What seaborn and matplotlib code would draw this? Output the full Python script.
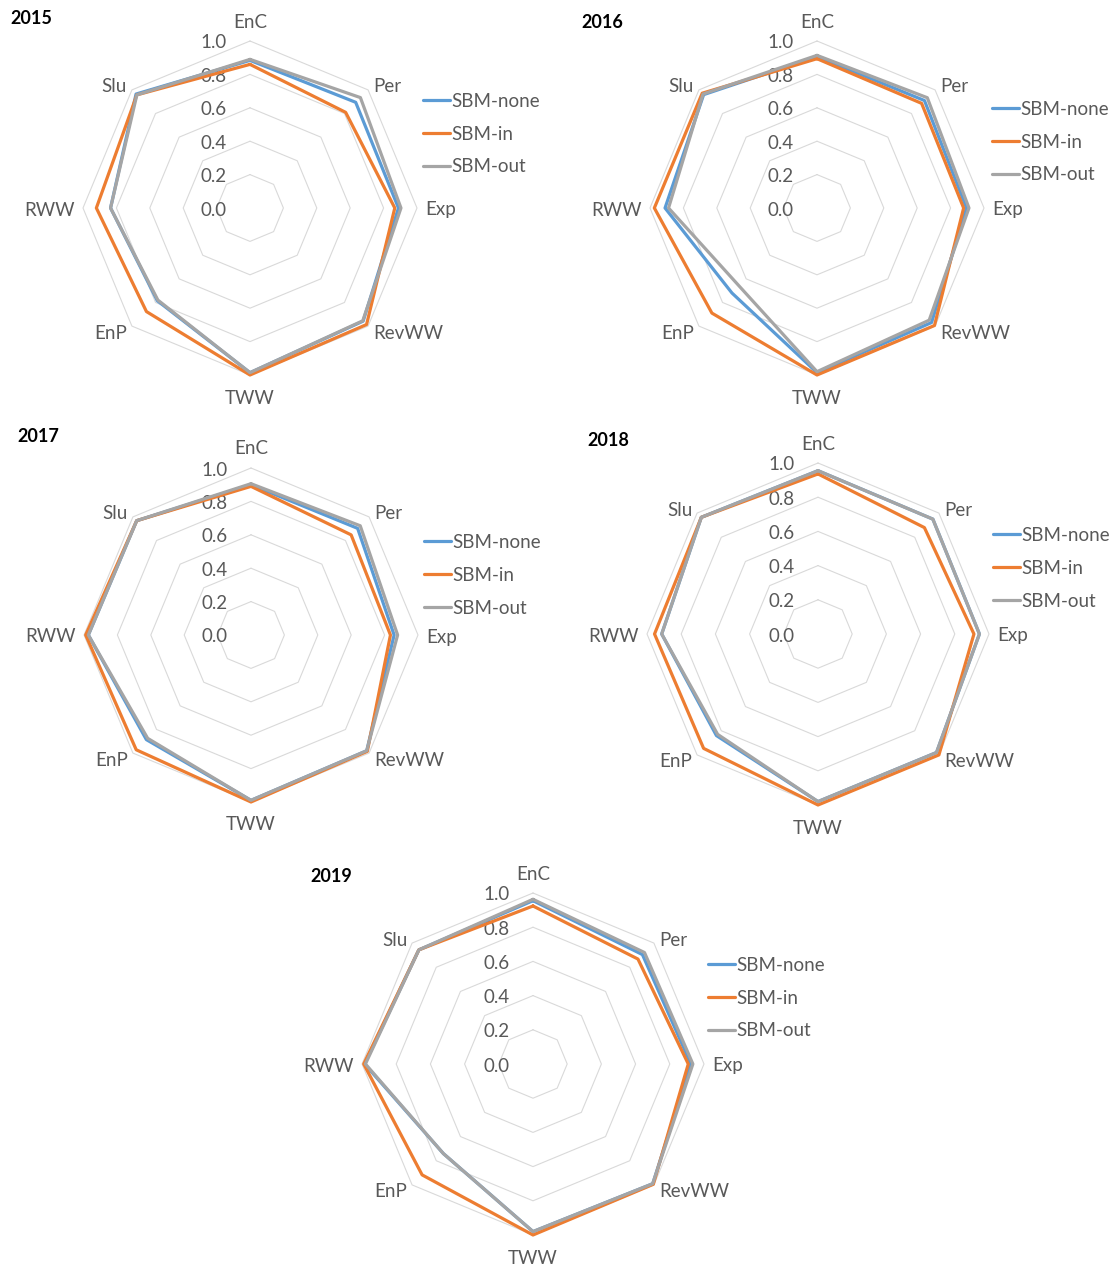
import numpy as np
import pandas as pd
import matplotlib
matplotlib.use("Agg")
import matplotlib.pyplot as plt
from matplotlib.lines import Line2D
import seaborn as sns

# ---- data -------------------------------------------------------------
categories = ["EnC", "Per", "Exp", "RevWW", "TWW", "EnP", "RWW", "Slu"]
series_names = ["SBM-none", "SBM-in", "SBM-out"]
years = ["2015", "2016", "2017", "2018", "2019"]
tick_values = [0.0, 0.2, 0.4, 0.6, 0.8, 1.0]

none_2015 = [0.884, 0.895, 0.889, 0.958, 0.986, 0.785, 0.835, 0.965]
in_2015 = [0.860, 0.810, 0.867, 0.987, 1.000, 0.877, 0.920, 0.958]
out_2015 = [0.890, 0.935, 0.904, 0.955, 0.986, 0.780, 0.835, 0.958]

none_2016 = [0.906, 0.910, 0.895, 0.970, 0.986, 0.720, 0.910, 0.960]
in_2016 = [0.894, 0.886, 0.878, 0.995, 1.000, 0.890, 0.974, 0.972]
out_2016 = [0.914, 0.934, 0.910, 0.950, 0.980, 0.660, 0.889, 0.965]

none_2017 = [0.900, 0.903, 0.857, 0.980, 0.990, 0.886, 0.974, 0.968]
in_2017 = [0.890, 0.848, 0.835, 0.985, 1.000, 0.972, 0.990, 0.968]
out_2017 = [0.906, 0.925, 0.878, 0.980, 0.990, 0.875, 0.974, 0.968]

none_2018 = [0.955, 0.950, 0.944, 0.980, 0.980, 0.840, 0.914, 0.965]
in_2018 = [0.936, 0.880, 0.912, 1.000, 1.000, 0.946, 0.956, 0.965]
out_2018 = [0.955, 0.950, 0.944, 0.980, 0.980, 0.830, 0.914, 0.965]

none_2019 = [0.955, 0.905, 0.923, 0.990, 0.980, 0.741, 0.985, 0.944]
in_2019 = [0.924, 0.868, 0.908, 0.995, 1.000, 0.917, 0.990, 0.944]
out_2019 = [0.963, 0.922, 0.935, 0.990, 0.980, 0.741, 0.980, 0.944]

panel_values = {
    "2015": [none_2015, in_2015, out_2015],
    "2016": [none_2016, in_2016, out_2016],
    "2017": [none_2017, in_2017, out_2017],
    "2018": [none_2018, in_2018, out_2018],
    "2019": [none_2019, in_2019, out_2019],
}

# ---- layout (figure pixels) ------------------------------------------
W, H, DPI = 1116, 1266, 100
# centre x, centre y, radius of the 1.0 ring
panel_geom = {
    "2015": (250, 208, 167),
    "2016": (817, 208, 167),
    "2017": (251, 635, 167),
    "2018": (818, 634, 171),
    "2019": (533, 1064, 171),
}
legend_pos = {
    "2015": (423, 93),
    "2016": (992, 101),
    "2017": (424, 534),
    "2018": (993, 527),
    "2019": (708, 957),
}
title_pos = {
    "2015": (10, 18),
    "2016": (581, 22),
    "2017": (17, 437),
    "2018": (587, 441),
    "2019": (310, 876),
}

palette = {"SBM-none": "#5B9BD5", "SBM-in": "#ED7D31", "SBM-out": "#A5A5A5"}
text_color = "#595959"
grid_color = "#D9D9D9"
FS = 13.5
TEXT_DROP = -2  # small downward nudge of text baselines, in pixels

sns.set_theme(style="white")
plt.rcParams["font.family"] = ["Lato", "DejaVu Sans"]

fig = plt.figure(figsize=(W / DPI, H / DPI), dpi=DPI)
fig.patch.set_facecolor("white")

n = len(categories)
angles = np.linspace(0, 2 * np.pi, n, endpoint=False)
closed_theta = np.append(angles, 2 * np.pi)

for year in years:
    cx, cy, R = panel_geom[year]
    ax = fig.add_axes([(cx - R) / W, 1 - (cy + R) / H, 2 * R / W, 2 * R / H],
                      projection="polar")
    ax.set_theta_zero_location("N")
    ax.set_theta_direction(-1)
    ax.grid(False)
    ax.spines["polar"].set_visible(False)
    ax.patch.set_alpha(0)

    # octagonal grid rings
    for lvl in tick_values[1:]:
        ax.plot(closed_theta, [lvl] * (n + 1), color=grid_color, lw=0.8,
                zorder=0.5, clip_on=False)

    # long-form table of the three series, each closed back to EnC
    rows = []
    for name, vals in zip(series_names, panel_values[year]):
        for th, v in zip(closed_theta, list(vals) + [vals[0]]):
            rows.append({"theta": th, "value": v, "series": name})
    df = pd.DataFrame(rows)

    sns.lineplot(data=df, x="theta", y="value", hue="series",
                 hue_order=series_names, palette=palette, sort=False,
                 estimator=None, linewidth=2.3, legend=False, ax=ax)
    for ln in ax.lines:
        ln.set_clip_on(False)
        ln.set_solid_joinstyle("round")

    ax.set_xlim(0, 2 * np.pi)
    ax.set_ylim(0, 1.0)
    ax.set_xticks([])
    ax.set_yticks([])
    ax.set_xlabel("")
    ax.set_ylabel("")

    # radial value labels to the left of the vertical axis
    for v in tick_values:
        ax.annotate(f"{v:.1f}", xy=(0, v), xytext=(-23, TEXT_DROP),
                    textcoords="offset pixels", ha="right", va="center",
                    color=text_color, fontsize=FS, zorder=0.8,
                    annotation_clip=False)

    # category labels just outside the outer ring
    for th, cat in zip(angles, categories):
        s, c = np.sin(th), np.cos(th)
        if abs(s) < 0.1:
            ha, off = "center", (0, 21 * np.sign(c))
        elif abs(c) < 0.1:
            ha, off = ("left" if s > 0 else "right"), (8 * np.sign(s), 0)
        else:
            ha, off = ("left" if s > 0 else "right"), (5 * np.sign(s), 5 * np.sign(c))
        ax.annotate(cat, xy=(th, 1.0), xytext=(off[0], off[1] + TEXT_DROP),
                    textcoords="offset pixels", ha=ha, va="center",
                    color=text_color, fontsize=FS, annotation_clip=False)

    # legend
    handles = [Line2D([0], [0], color=palette[s], lw=2.3) for s in series_names]
    lx, ly = legend_pos[year]
    ax.legend(handles, series_names, loc="upper left",
              bbox_to_anchor=(lx / W, 1 - ly / H), bbox_transform=fig.transFigure,
              frameon=False, fontsize=FS, handlelength=1.45, handletextpad=0.05,
              labelspacing=0.84, borderpad=0, borderaxespad=0,
              labelcolor=text_color)

    tx, ty = title_pos[year]
    fig.text(tx / W, 1 - ty / H, year, ha="left", va="center",
             fontsize=13, fontweight="bold", color="black")

fig.savefig("out.png", dpi=DPI, facecolor="white")
